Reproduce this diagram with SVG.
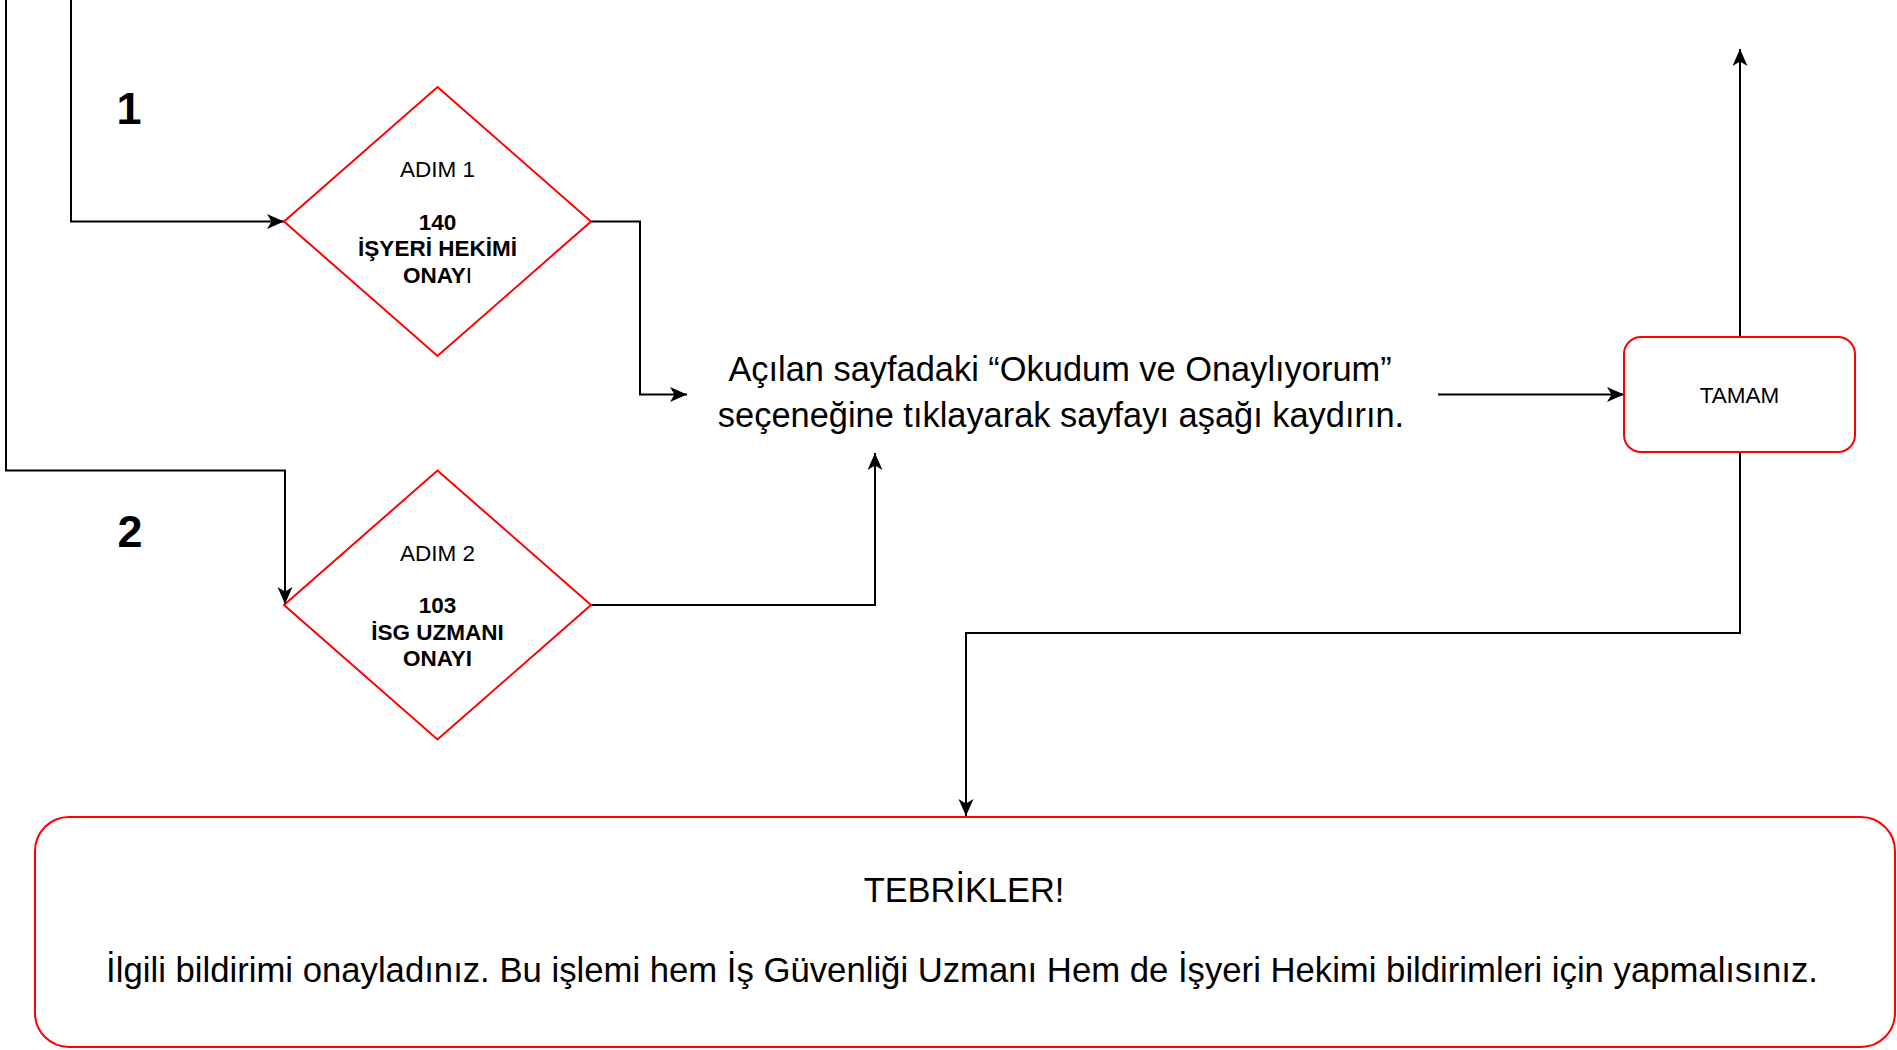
<svg xmlns="http://www.w3.org/2000/svg" width="1897" height="1050" viewBox="0 0 1897 1050">
<defs>
<style>
.conn{fill:none;stroke:#000;stroke-width:2}
.shape{fill:#fff;stroke:#ff0000;stroke-width:2}
text{font-family:"Liberation Sans",Arial,sans-serif;fill:#000}
.s{font-size:22.5px;text-anchor:middle}
.b{font-weight:bold}
.big{font-size:34.4px;text-anchor:middle}
.long{font-size:34.7px;text-anchor:middle}
.num{font-size:45px;font-weight:bold;text-anchor:middle}
</style>
<marker id="arr" markerUnits="userSpaceOnUse" markerWidth="18" markerHeight="16" refX="17" refY="7.5" orient="auto">
<path d="M0,0 L17,7.5 L0,15 L4.5,7.5 Z" fill="#000"/>
</marker>
</defs>
<rect width="1897" height="1050" fill="#fff"/>
<g id="connectors">
<path class="conn" d="M6,0 V470.5 H285 V604" marker-end="url(#arr)"/>
<path class="conn" d="M71,0 V221.5 H284" marker-end="url(#arr)"/>
<path class="conn" d="M591,221.5 H640 V394.5 H687" marker-end="url(#arr)"/>
<path class="conn" d="M591,605 H875 V453" marker-end="url(#arr)"/>
<path class="conn" d="M1438,394.5 H1624" marker-end="url(#arr)"/>
<path class="conn" d="M1740,337 V49" marker-end="url(#arr)"/>
<path class="conn" d="M1740,452 V633 H966 V816" marker-end="url(#arr)"/>
</g>
<g id="label1"><text class="num" x="129" y="124">1</text></g>
<g id="label2"><text class="num" x="130" y="547">2</text></g>
<g id="step1">
<polygon class="shape" points="437.5,87 591,221.5 437.5,356 284,221.5"/>
<text class="s" x="437.5" y="176.5">ADIM 1</text>
<text class="s b" x="437.5" y="229.5">140</text>
<text class="s b" x="437.5" y="256">İŞYERİ HEKİMİ</text>
<text class="s" x="437.5" y="282.5"><tspan font-weight="bold">ONAY</tspan>I</text>
</g>
<g id="step2">
<polygon class="shape" points="437.5,470.5 591,605 437.5,739.5 284,605"/>
<text class="s" x="437.5" y="560.5">ADIM 2</text>
<text class="s b" x="437.5" y="613">103</text>
<text class="s b" x="437.5" y="639.5">İSG UZMANI</text>
<text class="s b" x="437.5" y="666">ONAYI</text>
</g>
<g id="instruction">
<text class="big" x="1060" y="380.5">Açılan sayfadaki “Okudum ve Onaylıyorum”</text>
<text class="big" x="1061" y="426.5">seçeneğine tıklayarak sayfayı aşağı kaydırın.</text>
</g>
<g id="tamam">
<rect class="shape" x="1624" y="337" width="231" height="115" rx="17" ry="17"/>
<text class="s" x="1739.5" y="402.5">TAMAM</text>
</g>
<g id="tebrikler">
<rect class="shape" x="35" y="817" width="1860" height="230" rx="34" ry="34"/>
<text class="big" x="964" y="902">TEBRİKLER!</text>
<text class="long" x="962" y="982">İlgili bildirimi onayladınız. Bu işlemi hem İş Güvenliği Uzmanı Hem de İşyeri Hekimi bildirimleri için yapmalısınız.</text>
</g>
</svg>
